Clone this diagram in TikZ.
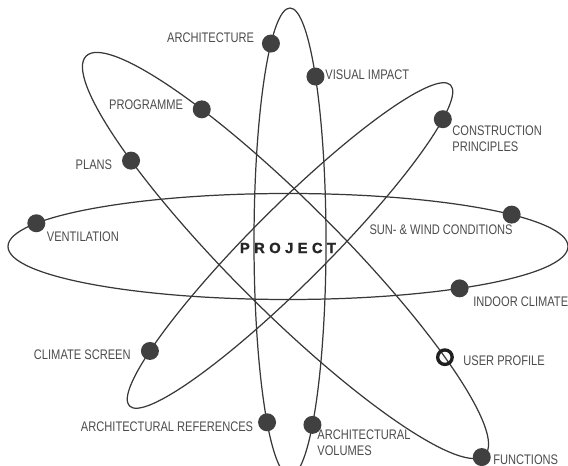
\documentclass[tikz,border=0pt]{standalone}
\usepackage{fontspec}
\setmainfont{Liberation Sans}[FakeStretch=0.8]
\newfontfamily\projfont{Liberation Sans}[FakeBold=1]
\begin{document}
\begin{tikzpicture}[
  x=0.2mm, y=0.2mm,
  orbit/.style={draw=black!78, line width=0.7pt},
  dot/.style={
    circle, fill=black!75,
    inner sep=0pt, minimum size=3.6mm
  },
  ring/.style={
    circle, draw=black!88, line width=1.9pt,
    inner sep=0pt, minimum size=2.9mm
  },
  lbl/.style={
    inner sep=0pt, text=black!70, align=left,
    font=\fontsize{7.9}{9.1}\selectfont
  }
]
  \useasboundingbox (0,0) rectangle (568,-466);
  \begin{scope}[shift={(290,-242)}]
    \draw[orbit] (0,0) ellipse [x radius=36, y radius=234];
    \foreach \t/\n in {122/arch,45/vis,230.4/aref,308.6/avol} {
      \node[dot] (\n) at (\t:36 and 234){};
    }
  \end{scope}
  \begin{scope}[shift={(288,-246.5)}]
    \draw[orbit] (0,0) ellipse [x radius=280, y radius=53];
    \foreach \t/\n in {154/vent,37/sun,-52.2/indoor} {
      \node[dot] (\n) at (\t:280 and 53){};
    }
  \end{scope}
  \begin{scope}[shift={(285.5,-255.5)}, rotate=-45]
    \draw[orbit] (0,0) ellipse [x radius=282, y radius=54];
    \foreach \t/\n in {125.2/prog,231.3/plans,-4/func} {
      \node[dot] (\n) at (\t:282 and 54){};
    }
    \node[ring] (user) at (49.1:282 and 54){};
  \end{scope}
  \begin{scope}[shift={(290,-245.5)}, rotate=45]
    \draw[orbit] (0,0) ellipse [x radius=227, y radius=38];
    \foreach \t/\n in {-29.6/constr,139.9/climate} {
      \node[dot] (\n) at (\t:227 and 38){};
    }
  \end{scope}
  \node[lbl, anchor=east] (archL) at (254.5,-38) {ARCHITECTURE};
  \node[lbl, anchor=west] (visL) at (325,-75) {VISUAL IMPACT};
  \node[lbl, anchor=east] (progL) at (183.5,-105) {PROGRAMME};
  \node[lbl, anchor=east] (plansL) at (112.5,-165) {PLANS};
  \node[lbl, anchor=west] (constrL) at (452,-139) {CONSTRUCTION\\PRINCIPLES};
  \node[lbl, anchor=west] (ventL) at (46.5,-237) {VENTILATION};
  \node[lbl, anchor=east] (sunL) at (513,-230) {SUN- \& WIND CONDITIONS};
  \node[lbl, anchor=west] (indoorL) at (473,-302) {INDOOR CLIMATE};
  \node[lbl, anchor=east] (climateL) at (131,-355) {CLIMATE SCREEN};
  \node[lbl, anchor=west] (userL) at (463,-361) {USER PROFILE};
  \node[lbl, anchor=east] (arefL) at (253.5,-426.5) {ARCHITECTURAL REFERENCES};
  \node[lbl, anchor=west] (avolL) at (317,-443) {ARCHITECTURAL\\VOLUMES};
  \node[lbl, anchor=west] (funcL) at (493,-459.5) {FUNCTIONS};
  \node[inner sep=0pt, text=black!85,
    font=\projfont\bfseries\fontsize{8.4}{10}\selectfont] (proj) at (288,-248)
    {P\kern2.5pt R\kern2.5pt O\kern2.5pt J\kern2.5pt E\kern2.5pt C\kern2.5pt T};
\end{tikzpicture}
\end{document}
